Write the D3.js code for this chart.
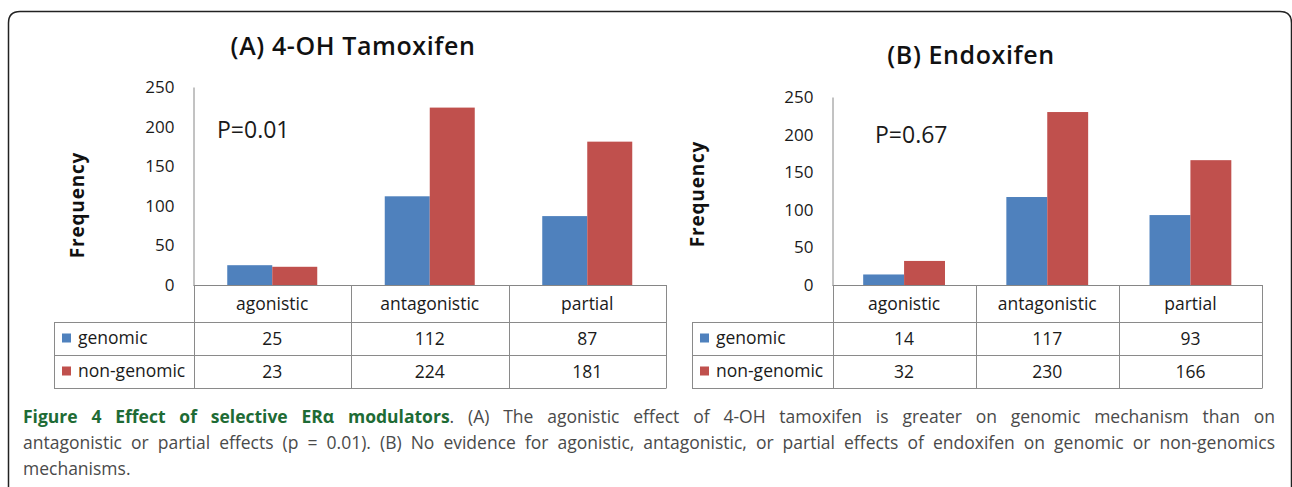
<!DOCTYPE html>
<html lang="en">
    <head>
        <meta charset="utf-8">
        <title>Effect of selective ER modulators</title>
        <script src="https://d3js.org/d3.v7.min.js"></script>
        <style type="text/css">
            body { margin: 0; background: #fff; }
            text { font-family: "Open Sans", "Noto Sans", sans-serif; }
        </style>
    </head>
    <body>
        <script>
            // data
            var categories = ["agonistic", "antagonistic", "partial"];
            var series = ["genomic", "non-genomic"];
            var tamoxifenGenomic = [25, 112, 87];
            var tamoxifenNonGenomic = [23, 224, 181];
            var endoxifenGenomic = [14, 117, 93];
            var endoxifenNonGenomic = [32, 230, 166];
            var yTicks = [0, 50, 100, 150, 200, 250];
            var seriesColors = ["#4F81BD", "#C0504D"];

            var captionLines = [
                [["Figure 4 Effect of selective ER\u03b1 modulators", true], [". (A) The agonistic effect of 4-OH tamoxifen is greater on genomic mechanism than on", false]],
                [["antagonistic or partial effects (p = 0.01). (B) No evidence for agonistic, antagonistic, or partial effects of endoxifen on genomic or non-genomics", false]],
                [["mechanisms.", false]]
            ];

            // layout
            var width = 1292;
            var height = 487;
            var zeroY = 285;
            var rowLines = [322, 355, 388];

            var panels = [
                { title: "(A) 4-OH Tamoxifen", p: "P=0.01", genomic: tamoxifenGenomic, nonGenomic: tamoxifenNonGenomic,
                  tableLeft: 54, axisX: 193.5, right: 666, top: 87,
                  titleX: 353, titleY: 55, pX: 217, pY: 138, freqX: 77, freqY: 205 },
                { title: "(B) Endoxifen", p: "P=0.67", genomic: endoxifenGenomic, nonGenomic: endoxifenNonGenomic,
                  tableLeft: 692, axisX: 832.5, right: 1262, top: 97,
                  titleX: 971, titleY: 64, pX: 875, pY: 143, freqX: 697, freqY: 194 }
            ];

            var svg = d3.select("body")
                .append("svg")
                .attr("width", width)
                .attr("height", height);

            // rounded frame
            svg.append("path")
                .attr("d", "M8.5,487 V23 Q8.5,11.5 20,11.5 H1280 Q1291.5,11.5 1291.5,23 V487")
                .attr("fill", "none")
                .attr("stroke", "#222")
                .attr("stroke-width", 1.5);

            panels.forEach(function(p) {
                var g = svg.append("g");

                var x0 = d3.scaleBand().domain(categories).range([p.axisX, p.right]);
                var x1 = d3.scaleBand().domain(series).range([0, x0.bandwidth()]).paddingOuter(0.75);
                var y = d3.scaleLinear().domain([0, 250]).range([zeroY, p.top]);

                var rows = categories.map(function(c, i) {
                    return { cat: c, values: [p.genomic[i], p.nonGenomic[i]] };
                });

                // bars
                var groups = g.selectAll(".cat").data(rows).enter().append("g")
                    .attr("transform", function(d) { return "translate(" + x0(d.cat) + ",0)"; });

                groups.selectAll("rect")
                    .data(function(d) { return d.values.map(function(v, j) { return { s: series[j], v: v, j: j }; }); })
                    .enter().append("rect")
                    .attr("x", function(d) { return x1(d.s); })
                    .attr("y", function(d) { return y(d.v); })
                    .attr("width", x1.bandwidth())
                    .attr("height", function(d) { return zeroY - y(d.v); })
                    .attr("fill", function(d) { return seriesColors[d.j]; });

                // y axis
                var axis = g.append("g")
                    .attr("transform", "translate(" + p.axisX + ",0)")
                    .call(d3.axisLeft(y).tickValues(yTicks).tickSize(0).tickSizeOuter(0).tickPadding(19));
                axis.select(".domain").attr("stroke", "#868686");
                axis.selectAll("text")
                    .attr("fill", "#1a1a1a")
                    .style("font-family", "'Open Sans', sans-serif")
                    .style("font-size", "17px");

                // data table
                var lineColor = "#8a8a8a";
                g.append("line")
                    .attr("x1", p.axisX).attr("x2", p.right)
                    .attr("y1", zeroY + 0.5).attr("y2", zeroY + 0.5)
                    .attr("stroke", "#868686");
                rowLines.forEach(function(ly) {
                    g.append("line")
                        .attr("x1", p.tableLeft).attr("x2", p.right)
                        .attr("y1", ly + 0.5).attr("y2", ly + 0.5)
                        .attr("stroke", lineColor);
                });
                var vx = [p.axisX].concat(categories.map(function(c) { return x0(c) + x0.bandwidth(); }));
                vx.forEach(function(lx) {
                    g.append("line")
                        .attr("x1", Math.round(lx) + 0.5).attr("x2", Math.round(lx) + 0.5)
                        .attr("y1", zeroY).attr("y2", rowLines[2] + 0.5)
                        .attr("stroke", lineColor);
                });
                g.append("line")
                    .attr("x1", p.tableLeft + 0.5).attr("x2", p.tableLeft + 0.5)
                    .attr("y1", rowLines[0]).attr("y2", rowLines[2] + 0.5)
                    .attr("stroke", lineColor);

                var cellFont = "17.5px";
                g.selectAll(".hdr").data(categories).enter().append("text")
                    .attr("x", function(d) { return x0(d) + x0.bandwidth() / 2; })
                    .attr("y", 310)
                    .attr("text-anchor", "middle")
                    .attr("fill", "#1a1a1a")
                    .style("font-size", cellFont)
                    .text(function(d) { return d; });

                series.forEach(function(s, j) {
                    var rowMid = (rowLines[j] + rowLines[j + 1]) / 2;
                    g.append("rect")
                        .attr("x", p.tableLeft + 8).attr("y", rowMid - 5)
                        .attr("width", 9).attr("height", 9)
                        .attr("fill", seriesColors[j]);
                    g.append("text")
                        .attr("x", p.tableLeft + 24)
                        .attr("y", rowMid + 5.5)
                        .attr("fill", "#1a1a1a")
                        .style("font-size", cellFont)
                        .text(s);
                    g.selectAll(".v" + j).data(rows).enter().append("text")
                        .attr("x", function(d) { return x0(d.cat) + x0.bandwidth() / 2; })
                        .attr("y", rowMid + 6)
                        .attr("text-anchor", "middle")
                        .attr("fill", "#1a1a1a")
                        .style("font-size", cellFont)
                        .text(function(d) { return d.values[j]; });
                });

                // titles and annotations
                g.append("text")
                    .attr("x", p.titleX).attr("y", p.titleY)
                    .attr("text-anchor", "middle")
                    .attr("fill", "#111")
                    .style("font-size", "25px")
                    .style("font-weight", 600)
                    .style("letter-spacing", "0.6px")
                    .text(p.title);

                g.append("text")
                    .attr("x", p.pX).attr("y", p.pY)
                    .attr("fill", "#1a1a1a")
                    .style("font-size", "23px")
                    .text(p.p);

                g.append("text")
                    .attr("transform", "translate(" + p.freqX + "," + p.freqY + ") rotate(-90)")
                    .attr("text-anchor", "middle")
                    .attr("dominant-baseline", "central")
                    .attr("fill", "#111")
                    .style("font-size", "19px")
                    .style("font-weight", 700)
                    .style("letter-spacing", "0.8px")
                    .text("Frequency");
            });

            // caption, justified like the journal layout
            var capLeft = 23, capRight = 1275;
            captionLines.forEach(function(parts, i) {
                var t = svg.append("text")
                    .attr("x", capLeft)
                    .attr("y", 423 + i * 26)
                    .style("font-size", "17.5px");
                parts.forEach(function(part) {
                    t.append("tspan")
                        .attr("fill", part[1] ? "#1e6b35" : "#4a4a4a")
                        .style("font-weight", part[1] ? 700 : 400)
                        .text(part[0]);
                });
                if (i < captionLines.length - 1) {
                    var full = parts.map(function(pp) { return pp[0]; }).join("");
                    var spaces = full.split(" ").length - 1;
                    var len = t.node().getComputedTextLength();
                    t.style("word-spacing", ((capRight - capLeft - len) / spaces) + "px");
                }
            });
        </script>
    </body>
</html>
